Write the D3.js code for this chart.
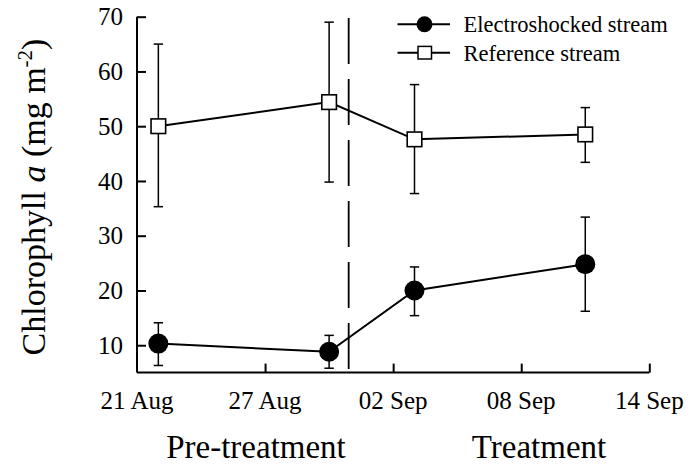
<!DOCTYPE html>
<html>
<head>
<meta charset="utf-8">
<script src="https://cdn.jsdelivr.net/npm/d3@7"></script>
<style>
  html, body { margin: 0; padding: 0; background: #fff; }
  svg { display: block; }
  text { font-family: "Liberation Serif", "Times New Roman", serif; fill: #000; }
</style>
</head>
<body>
<svg id="chart" width="697" height="465"></svg>
<script>
// ---- data ----
const sampleDates = ["2000-08-22", "2000-08-30", "2000-09-03", "2000-09-11"];
const electroMean  = [10.3, 8.8, 20.0, 24.8];
const electroUpper = [14.1, 11.8, 24.3, 33.4];
const electroLower = [6.3, 5.8, 15.4, 16.2];
const refMean  = [50.0, 54.4, 47.6, 48.5];
const refUpper = [65.0, 69.0, 57.6, 53.4];
const refLower = [35.3, 39.8, 37.7, 43.4];
const xTickDates  = ["2000-08-21", "2000-08-27", "2000-09-02", "2000-09-08", "2000-09-14"];
const xTickLabels = ["21 Aug", "27 Aug", "02 Sep", "08 Sep", "14 Sep"];
const yTicks = [10, 20, 30, 40, 50, 60, 70];
const treatmentStart = "2000-08-30T22:00:00Z";
const seriesNames = ["Electroshocked stream", "Reference stream"];
const phaseLabels = ["Pre-treatment", "Treatment"];

// ---- layout ----
const parse = s => new Date(s.length > 10 ? s : s + "T00:00:00Z");
const svg = d3.select("#chart");
const x = d3.scaleUtc()
  .domain([parse(xTickDates[0]), parse(xTickDates[xTickDates.length - 1])])
  .range([137, 649.3]);
const y = d3.scaleLinear().domain([5, 70]).range([372.6, 16.7]);

const mk = (means, up, lo) => means.map((m, i) => ({ date: parse(sampleDates[i]), m, up: up[i], lo: lo[i] }));
const electro = mk(electroMean, electroUpper, electroLower);
const ref = mk(refMean, refUpper, refLower);

// ---- axes ----
const yAxis = d3.axisRight(y).tickValues(yTicks).tickSize(9).tickFormat("");
const gy = svg.append("g").attr("transform", `translate(${x.range()[0]},0)`).call(yAxis);
gy.select(".domain").attr("d", `M0,${y(5)}V${y(70)}`).attr("stroke-width", 2).attr("stroke", "#000");
gy.selectAll(".tick line").attr("stroke-width", 2).attr("stroke", "#000");

const xAxis = d3.axisTop(x).tickValues(xTickDates.slice(1).map(parse)).tickSize(9).tickFormat("");
const gx = svg.append("g").attr("transform", `translate(0,${y(5)})`).call(xAxis);
gx.select(".domain").attr("d", `M${x.range()[0]},0H${x.range()[1]}`).attr("stroke-width", 2).attr("stroke", "#000");
gx.selectAll(".tick line").attr("stroke-width", 2).attr("stroke", "#000");

// tick labels
svg.append("g").selectAll("text").data(yTicks).join("text")
  .attr("x", 123).attr("y", d => y(d)).attr("dy", "0.35em")
  .attr("text-anchor", "end").style("font-size", "25px").text(d => d);
svg.append("g").selectAll("text").data(xTickDates).join("text")
  .attr("x", d => x(parse(d))).attr("y", 408.5)
  .attr("text-anchor", "middle").style("font-size", "25px")
  .text((d, i) => xTickLabels[i]);

// y label
const yl = svg.append("text")
  .attr("transform", "translate(45,197) rotate(-90)")
  .attr("text-anchor", "middle").style("font-size", "34px");
yl.append("tspan").text("Chlorophyll ");
yl.append("tspan").style("font-style", "italic").text("a");
yl.append("tspan").text(" (mg m");
yl.append("tspan").attr("dy", -13).style("font-size", "21px").text("-2");
yl.append("tspan").attr("dy", 13).text(")");

// phase labels
svg.append("text").attr("x", 256).attr("y", 458).attr("text-anchor", "middle")
  .style("font-size", "33px").text(phaseLabels[0]);
svg.append("text").attr("x", 539).attr("y", 458).attr("text-anchor", "middle")
  .style("font-size", "33px").text(phaseLabels[1]);

// divider
svg.append("line")
  .attr("x1", x(parse(treatmentStart))).attr("x2", x(parse(treatmentStart)))
  .attr("y1", 18).attr("y2", y(5))
  .attr("stroke", "#000").attr("stroke-width", 1.8).attr("stroke-dasharray", "46,15");

// series
const line = d3.line().x(d => x(d.date)).y(d => y(d.m));
function drawSeries(data, kind) {
  const g = svg.append("g");
  g.append("path").datum(data).attr("d", line)
    .attr("fill", "none").attr("stroke", "#000").attr("stroke-width", 2);
  const eb = g.append("g").selectAll("g").data(data).join("g");
  eb.append("line").attr("x1", d => x(d.date)).attr("x2", d => x(d.date))
    .attr("y1", d => y(d.up)).attr("y2", d => y(d.lo))
    .attr("stroke", "#000").attr("stroke-width", 1.5);
  ["up", "lo"].forEach(k => {
    eb.append("line").attr("x1", d => x(d.date) - 4.7).attr("x2", d => x(d.date) + 4.7)
      .attr("y1", d => y(d[k])).attr("y2", d => y(d[k]))
      .attr("stroke", "#000").attr("stroke-width", 1.5);
  });
  if (kind === "circle") {
    g.append("g").selectAll("circle").data(data).join("circle")
      .attr("cx", d => x(d.date)).attr("cy", d => y(d.m)).attr("r", 10).attr("fill", "#000");
  } else {
    g.append("g").selectAll("rect").data(data).join("rect")
      .attr("x", d => x(d.date) - 7.3).attr("y", d => y(d.m) - 7.3)
      .attr("width", 14.6).attr("height", 14.6)
      .attr("fill", "#fff").attr("stroke", "#000").attr("stroke-width", 1.6);
  }
}
drawSeries(ref, "square");
drawSeries(electro, "circle");

// legend
const leg = svg.append("g");
const legRows = [{ name: seriesNames[0], kind: "circle", cy: 24.3 }, { name: seriesNames[1], kind: "square", cy: 52.7 }];
legRows.forEach(r => {
  leg.append("line").attr("x1", 397.5).attr("x2", 450).attr("y1", r.cy).attr("y2", r.cy)
    .attr("stroke", "#000").attr("stroke-width", 2);
  if (r.kind === "circle") {
    leg.append("circle").attr("cx", 424.5).attr("cy", r.cy).attr("r", 8).attr("fill", "#000");
  } else {
    leg.append("rect").attr("x", 418).attr("y", r.cy - 6.3).attr("width", 13.5).attr("height", 12.6)
      .attr("fill", "#fff").attr("stroke", "#000").attr("stroke-width", 1.5);
  }
  leg.append("text").attr("x", 463.5).attr("y", r.cy + 7.8).style("font-size", "22.5px").text(r.name);
});
</script>
</body>
</html>
